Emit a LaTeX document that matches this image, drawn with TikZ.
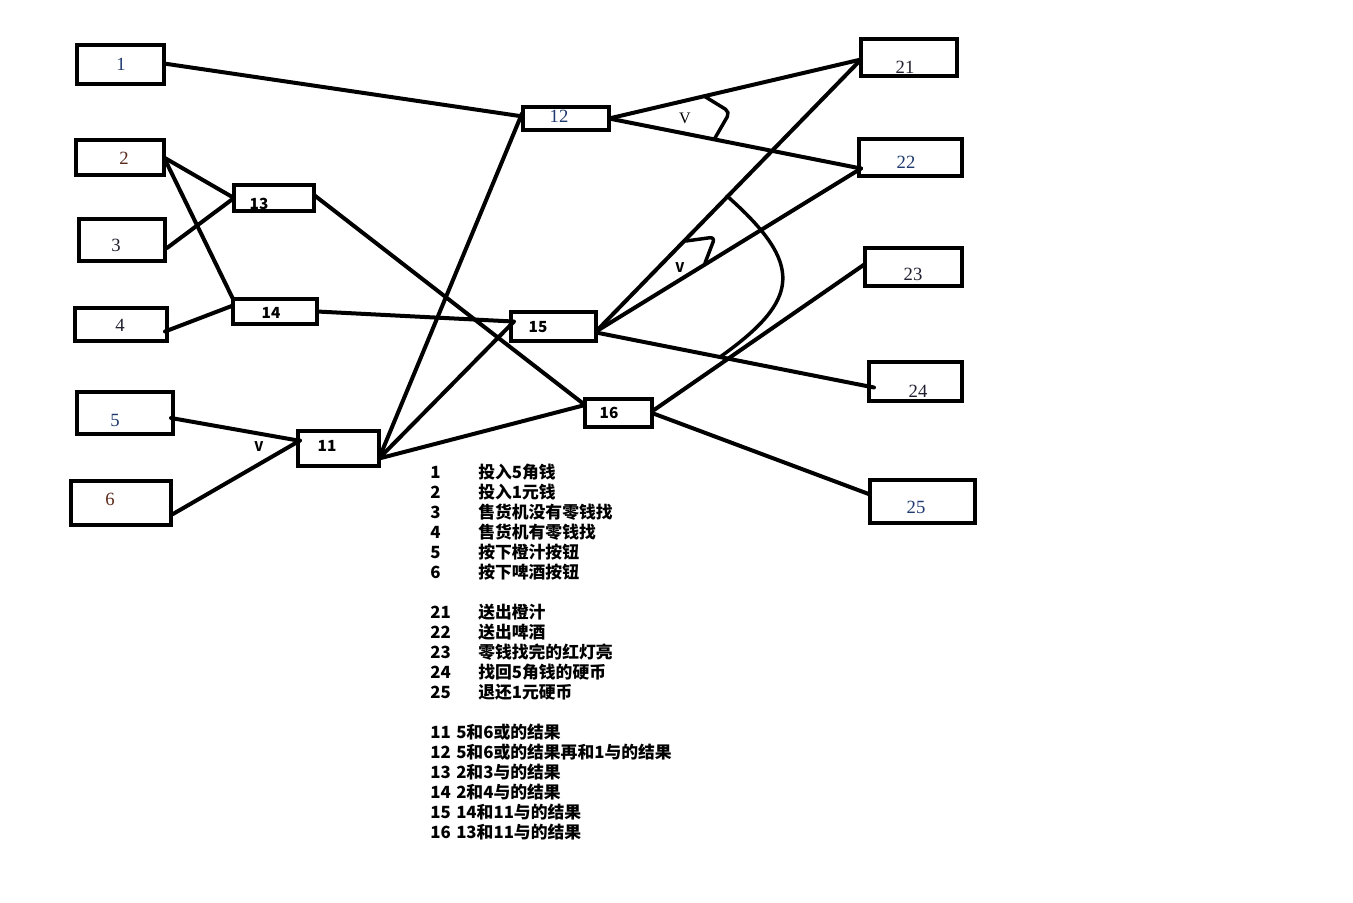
\documentclass[tikz,border=0pt]{standalone}
\usepackage{fontspec}
\setmainfont{Liberation Serif}
\newfontfamily\cjk{Noto Sans CJK SC}
\usetikzlibrary{calc}
\definecolor{lblue}{HTML}{1F3A6E}
\definecolor{lbrown}{HTML}{5A2A1A}
\definecolor{ldark}{HTML}{202030}
\begin{document}
\begin{tikzpicture}[x=0.75pt,y=-0.75pt,
 box/.style={draw, line width=3.3pt, inner sep=0pt, outer sep=0pt},
 wire/.style={line width=3pt, line cap=round, line join=round},
 cmark/.style={line width=2.6pt, line cap=round, rounded corners=4pt},
 lab/.style={font=\fontsize{14}{16}\selectfont, inner sep=0pt, text=ldark},
 blab/.style={font=\cjk\bfseries\fontsize{11.5}{13}\selectfont, inner sep=0pt},
 leg/.style={font=\cjk\bfseries\fontsize{12.6}{14}\selectfont, anchor=west, inner sep=0pt},
]
\useasboundingbox (0,0) rectangle (1353,903);
\fill[white] (0,0) rectangle (1353,903);

% boxes
\node[box, minimum width=87*0.75pt, minimum height=39*0.75pt] (n1) at (120.5,64.5) {};
\node[box, minimum width=88*0.75pt, minimum height=35*0.75pt] (n2) at (120,157.5) {};
\node[box, minimum width=86*0.75pt, minimum height=42*0.75pt] (n3) at (122,240) {};
\node[box, minimum width=92*0.75pt, minimum height=33*0.75pt] (n4) at (121,324.5) {};
\node[box, minimum width=96*0.75pt, minimum height=42*0.75pt] (n5) at (125,413) {};
\node[box, minimum width=100*0.75pt, minimum height=44*0.75pt] (n6) at (121,503) {};
\node[box, minimum width=81*0.75pt, minimum height=35*0.75pt] (n11) at (338.5,448.5) {};
\node[box, minimum width=86*0.75pt, minimum height=23*0.75pt] (n12) at (566,118.5) {};
\node[box, minimum width=80*0.75pt, minimum height=26*0.75pt] (n13) at (274,198) {};
\node[box, minimum width=84*0.75pt, minimum height=25*0.75pt] (n14) at (275,311.5) {};
\node[box, minimum width=85*0.75pt, minimum height=29*0.75pt] (n15) at (553.5,326.5) {};
\node[box, minimum width=67*0.75pt, minimum height=28*0.75pt] (n16) at (618.5,413) {};
\node[box, minimum width=96*0.75pt, minimum height=37*0.75pt] (n21) at (909,57.5) {};
\node[box, minimum width=103*0.75pt, minimum height=37*0.75pt] (n22) at (910.5,157.5) {};
\node[box, minimum width=97*0.75pt, minimum height=38*0.75pt] (n23) at (913.5,267) {};
\node[box, minimum width=93*0.75pt, minimum height=39*0.75pt] (n24) at (915.5,381.5) {};
\node[box, minimum width=105*0.75pt, minimum height=43*0.75pt] (n25) at (922.5,501.5) {};

% box labels
\node[lab, text=lblue] (t1) at (121,64) {1};
\node[lab, text=lbrown] (t2) at (124,158) {2};
\node[lab] (t3) at (116,245) {3};
\node[lab] (t4) at (120,325) {4};
\node[lab, text=lblue] (t5) at (115,420) {5};
\node[lab, text=lbrown] (t6) at (110,499) {6};
\node[blab] (t11) at (327,446) {11};
\node[lab, text=lblue] (t12) at (559,116) {12};
\node[blab] (t13) at (259,204) {13};
\node[blab] (t14) at (271,313) {14};
\node[blab] (t15) at (538,327) {15};
\node[blab] (t16) at (609,413) {16};
\node[lab] (t21) at (905,67) {21};
\node[lab, text=lblue] (t22) at (906,162) {22};
\node[lab] (t23) at (913,274) {23};
\node[lab] (t24) at (918,391) {24};
\node[lab, text=lblue] (t25) at (916,507) {25};

% connectors
\draw[wire] ($(n1.east)+(0,-1)$) -- ($(n12.west)+(0,-2)$);
\draw[wire] (n2.east) -- (n13.west);
\draw[wire] (n2.east) -- (n14.north west);
\draw[wire] ($(n3.east)+(2,8)$) -- (n13.west);
\draw[wire] ($(n4.east)+(-2,7)$) -- ($(n14.west)+(0,-6)$);
\draw[wire] ($(n5.east)+(-2,5)$) -- ($(n11.west)+(0,-8)$);
\draw[wire] ($(n6.east)+(2,11)$) -- ($(n11.west)+(2,-8)$);
\draw[wire] ($(n11.east)+(0,10)$) -- ($(n12.west)+(-1,-5)$);
\draw[wire] ($(n11.east)+(0,10)$) -- ($(n15.west)+(3,-5)$);
\draw[wire] ($(n11.east)+(0,10)$) -- ($(n16.west)+(0,-8)$);
\draw[wire] ($(n13.east)+(0,-3)$) -- ($(n16.west)+(0,-8)$);
\draw[wire] (n14.east) -- ($(n15.west)+(2,-5)$);
\draw[wire] (n12.east) -- ($(n21.west)+(0,2)$);
\draw[wire] (n12.east) -- ($(n22.west)+(2,11)$);
\draw[wire] ($(n15.east)+(0,5)$) -- ($(n21.west)+(0,2)$);
\draw[wire] ($(n15.east)+(0,5)$) -- ($(n22.west)+(2,11)$);
\draw[wire] ($(n15.east)+(0,6)$) -- ($(n24.west)+(5,6)$);
\draw[wire] ($(n16.east)+(2,-3)$) -- ($(n23.west)+(0,-3)$);
\draw[wire] (n16.east) -- ($(n25.west)+(0,-7)$);

% constraint marks
\draw[cmark] (704,96) -- (730,112) -- (715,138);
\draw[cmark] (686,241) -- (715,237) -- (705,263);
\draw[line width=2.6pt, line cap=round] (727,196) .. controls (805,265) and (800,300) .. (720,357);
\node[font=\fontsize{12}{14}\selectfont, inner sep=0pt] (v12) at (685,118) {V};
\node[font=\cjk\bfseries\fontsize{10}{12}\selectfont, inner sep=0pt] (v15) at (680,268) {V};
\node[font=\cjk\bfseries\fontsize{10}{12}\selectfont, inner sep=0pt] (v11) at (259,447) {V};

% legend
\node[leg] (g1) at (430,472) {\makebox[36pt][l]{1}投入5角钱};
\node[leg] (g2) at (430,492) {\makebox[36pt][l]{2}投入1元钱};
\node[leg] (g3) at (430,512) {\makebox[36pt][l]{3}售货机没有零钱找};
\node[leg] (g4) at (430,532) {\makebox[36pt][l]{4}售货机有零钱找};
\node[leg] (g5) at (430,552) {\makebox[36pt][l]{5}按下橙汁按钮};
\node[leg] (g6) at (430,572) {\makebox[36pt][l]{6}按下啤酒按钮};
\node[leg] (g21) at (430,612) {\makebox[36pt][l]{21}送出橙汁};
\node[leg] (g22) at (430,632) {\makebox[36pt][l]{22}送出啤酒};
\node[leg] (g23) at (430,652) {\makebox[36pt][l]{23}零钱找完的红灯亮};
\node[leg] (g24) at (430,672) {\makebox[36pt][l]{24}找回5角钱的硬币};
\node[leg] (g25) at (430,692) {\makebox[36pt][l]{25}退还1元硬币};
\node[leg] (g11) at (430,732) {\makebox[19.5pt][l]{11}5和6或的结果};
\node[leg] (g12) at (430,752) {\makebox[19.5pt][l]{12}5和6或的结果再和1与的结果};
\node[leg] (g13) at (430,772) {\makebox[19.5pt][l]{13}2和3与的结果};
\node[leg] (g14) at (430,792) {\makebox[19.5pt][l]{14}2和4与的结果};
\node[leg] (g15) at (430,812) {\makebox[19.5pt][l]{15}14和11与的结果};
\node[leg] (g16) at (430,832) {\makebox[19.5pt][l]{16}13和11与的结果};
\end{tikzpicture}
\end{document}
